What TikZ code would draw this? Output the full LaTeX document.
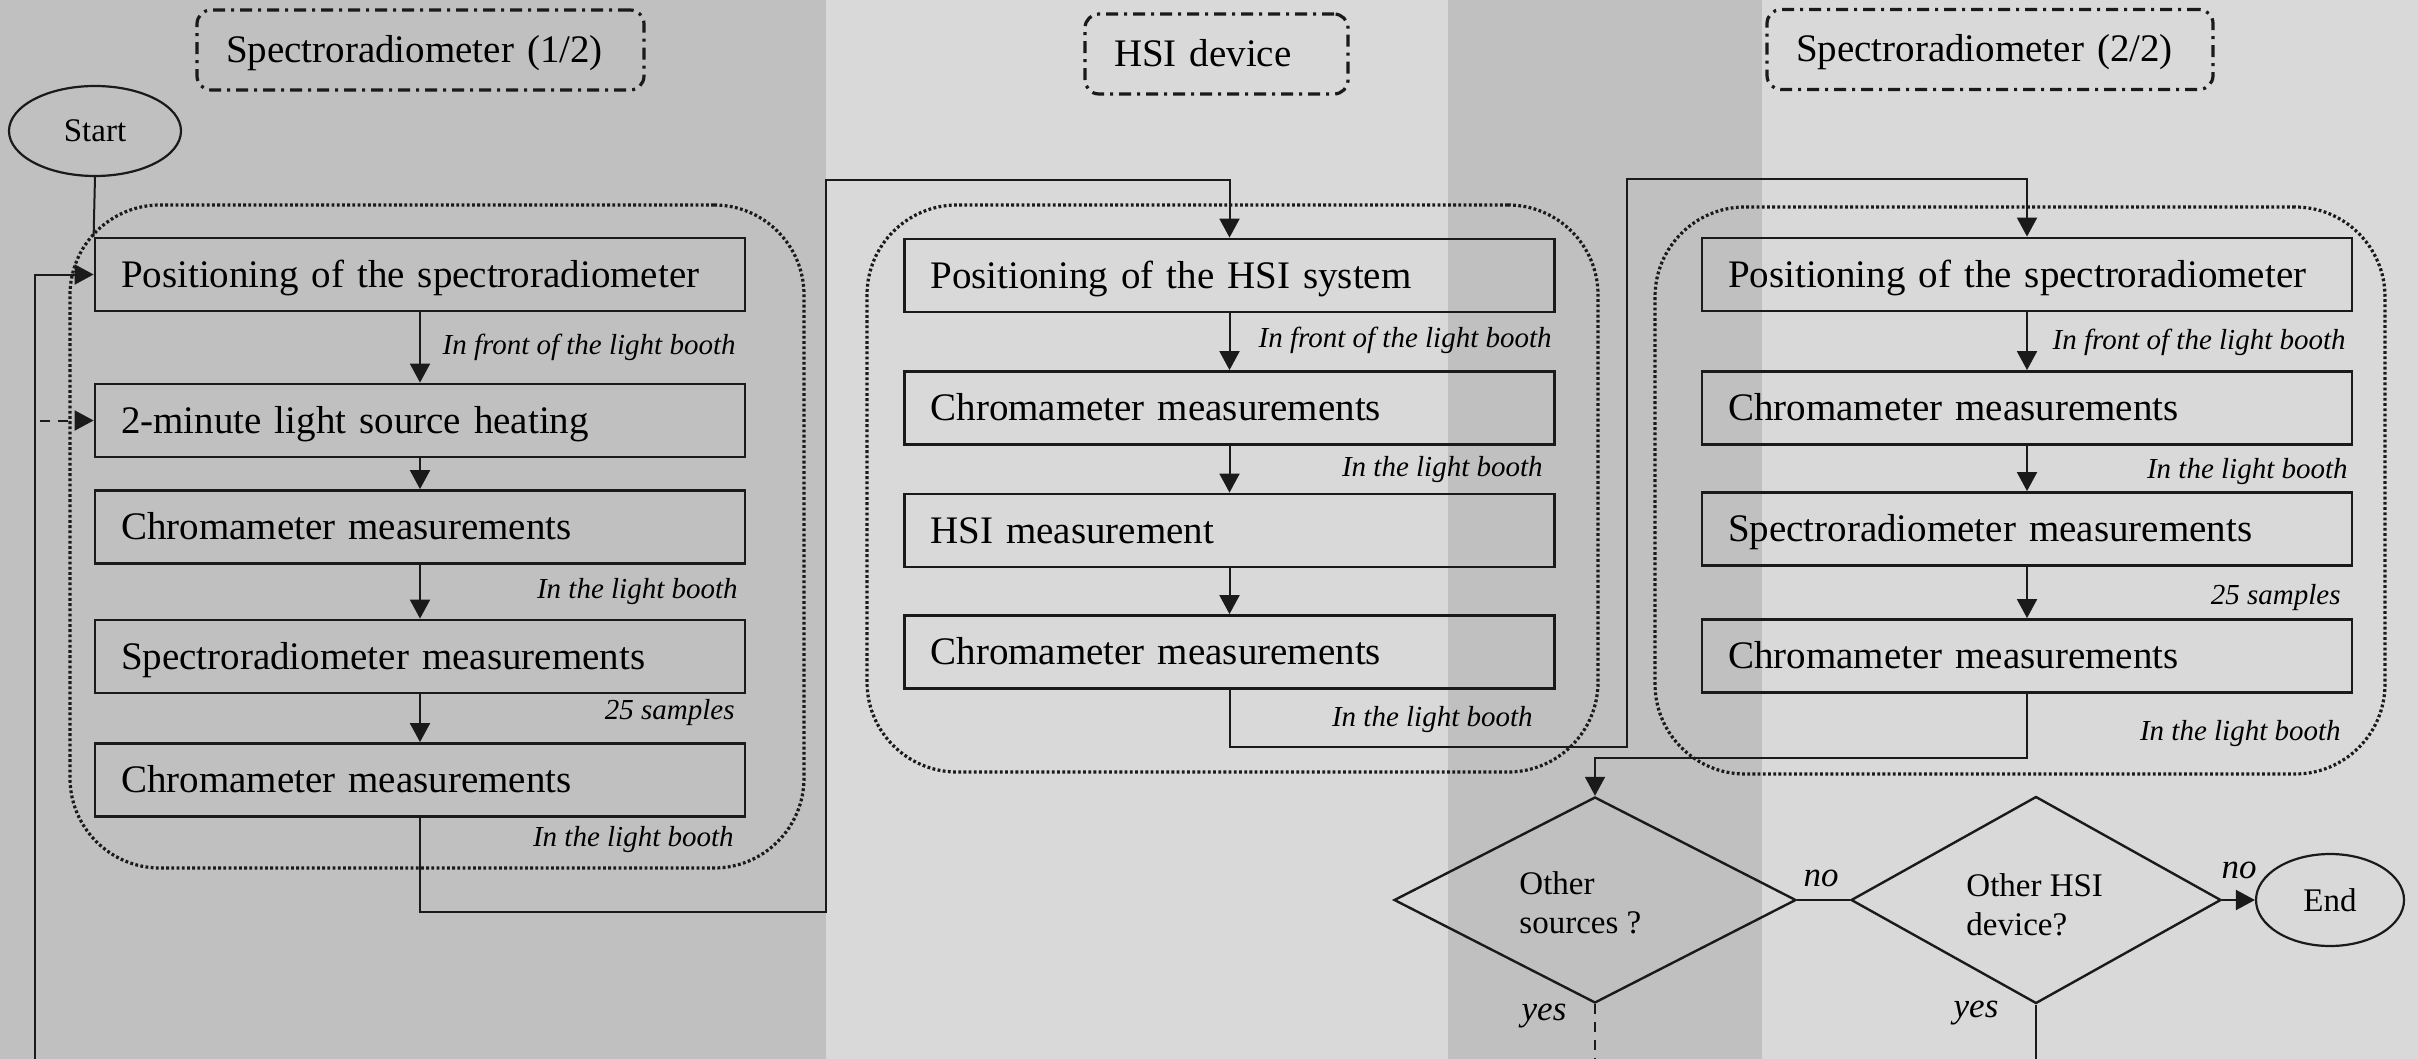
\documentclass[tikz,border=0pt]{standalone}
\usepackage{fontspec}
\setmainfont{Liberation Serif}
\usetikzlibrary{arrows.meta,shapes.geometric}
\definecolor{bgdark}{HTML}{C0C0C0}
\definecolor{bglight}{HTML}{D9D9D9}
\definecolor{ink}{HTML}{1A1A1A}
\begin{document}
\begin{tikzpicture}[x=0.5pt,y=-0.5pt,
  stepbox/.style={draw=ink,line width=1.4pt,rectangle,minimum height=36.5pt,
    text width=299pt,inner xsep=13pt,inner ysep=0pt,align=left,
    text height=14pt,text depth=1.5pt,
    font=\fontsize{19.5}{23}\selectfont},
  hdrbox/.style={draw=ink,line width=1.6pt,rectangle,rounded corners=7pt,
    dash pattern=on 6pt off 3pt on 1.5pt off 3pt,minimum height=40pt,
    inner xsep=14.5pt,inner ysep=0pt,align=left,
    text height=14pt,text depth=1.5pt,
    font=\fontsize{19.5}{23}\selectfont},
  grpbox/.style={draw=ink,line width=1.6pt,rectangle,rounded corners=45pt,
    dash pattern=on 1.4pt off 1.2pt,inner sep=0pt},
  termnode/.style={draw=ink,line width=1.1pt,ellipse,inner sep=0pt,
    font=\fontsize{16.5}{19}\selectfont},
  decnode/.style={draw=ink,line width=1.2pt,diamond,inner sep=0pt},
  dectext/.style={inner sep=0pt,align=left,anchor=west,
    font=\fontsize{16.5}{19.5}\selectfont},
  lbl/.style={inner sep=0pt,anchor=east,font=\itshape\fontsize{14.5}{17}\selectfont},
  yn/.style={inner sep=0pt,font=\itshape\fontsize{17.5}{20}\selectfont},
  conn/.style={draw=ink,line width=1pt},
  arr/.style={-{Triangle[length=9.5pt,width=10pt]}},
  dashln/.style={dash pattern=on 5pt off 4pt}
]
% background bands
\useasboundingbox (0,0) rectangle (2418,1059);
\fill[bgdark] (0,0) rectangle (826,1059);
\fill[bglight] (826,0) rectangle (1448,1059);
\fill[bgdark] (1448,0) rectangle (1762,1059);
\fill[bglight] (1762,0) rectangle (2418,1059);

% headers
\node[hdrbox,text width=194.5pt,minimum width=223.5pt] (hdrA) at (420.5,50) {Spectroradiometer (1/2)};
\node[hdrbox,text width=102.5pt,minimum width=131.5pt] (hdrB) at (1216.5,54) {HSI device};
\node[hdrbox,text width=194pt,minimum width=223pt] (hdrC) at (1990,49.5) {Spectroradiometer (2/2)};

% group containers
\node[grpbox,minimum width=367pt,minimum height=331.5pt] (grpL) at (437,536.5) {};
\node[grpbox,minimum width=365.5pt,minimum height=283.5pt] (grpH) at (1232.5,488.5) {};
\node[grpbox,minimum width=365pt,minimum height=283.5pt] (grpR) at (2020,490.5) {};

% start
\node[termnode,minimum width=86pt,minimum height=45pt] (start) at (95,131) {Start};

% left column
\node[stepbox] (L1) at (420,274.5) {Positioning of the spectroradiometer};
\node[stepbox] (L2) at (420,420.5) {2-minute light source heating};
\node[stepbox] (L3) at (420,527) {Chromameter measurements};
\node[stepbox] (L4) at (420,656.5) {Spectroradiometer measurements};
\node[stepbox] (L5) at (420,780) {Chromameter measurements};
\node[lbl] (lA) at (736,347) {In front of the light booth};
\node[lbl] (lB) at (738,592) {In the light booth};
\node[lbl] (lC) at (735,713) {25 samples};
\node[lbl] (lD) at (734,840) {In the light booth};

% HSI column
\node[stepbox] (H1) at (1229.5,275.5) {Positioning of the HSI system};
\node[stepbox] (H2) at (1229.5,408) {Chromameter measurements};
\node[stepbox] (H3) at (1229.5,530.5) {HSI measurement};
\node[stepbox] (H4) at (1229.5,652) {Chromameter measurements};
\node[lbl] (hA) at (1552,340) {In front of the light booth};
\node[lbl] (hB) at (1543,470) {In the light booth};
\node[lbl] (hC) at (1533,720) {In the light booth};

% right column
\node[stepbox] (R1) at (2027,274.5) {Positioning of the spectroradiometer};
\node[stepbox] (R2) at (2027,408) {Chromameter measurements};
\node[stepbox] (R3) at (2027,529) {Spectroradiometer measurements};
\node[stepbox] (R4) at (2027,656) {Chromameter measurements};
\node[lbl] (rA) at (2346,342) {In front of the light booth};
\node[lbl] (rB) at (2348,472) {In the light booth};
\node[lbl] (rC) at (2341,598) {25 samples};
\node[lbl] (rD) at (2341,734) {In the light booth};

% decisions
\node[decnode,minimum width=201pt,minimum height=103pt] (D1) at (1595,900) {};
\node[dectext] (D1t) at (1519,903) {Other\\sources ?};
\node[decnode,minimum width=185pt,minimum height=103.5pt] (D2) at (2036,900) {};
\node[dectext] (D2t) at (1966,905) {Other HSI\\device?};
\node[termnode,minimum width=74pt,minimum height=46pt] (endn) at (2330,900) {End};
\node[yn] (no1) at (1821,878) {no};
\node[yn] (no2) at (2239,870) {no};
\node[yn] (yes1) at (1544,1016) {yes};
\node[yn] (yes2) at (1976,1013) {yes};

% coordinates
\coordinate (j1) at (826,912);
\coordinate (j2) at (826,180);
\coordinate (j3) at (1627,747);
\coordinate (j4) at (1627,179);
\coordinate (j5) at (1595,758);
\coordinate (lb) at (35,1059);
\coordinate (ld) at (40,420.5);
\coordinate (d1b) at (1595,1059);
\coordinate (d2b) at (2036,1059);

% connectors
\draw[conn] (start.south) -- (L1.north west);
\draw[conn,arr] (L1) -- (L2);
\draw[conn,arr] (L2) -- (L3);
\draw[conn,arr] (L3) -- (L4);
\draw[conn,arr] (L4) -- (L5);
\draw[conn,arr] (L5.south) |- (j1) -- (j2) -| (H1.north);
\draw[conn,arr] (H1) -- (H2);
\draw[conn,arr] (H2) -- (H3);
\draw[conn,arr] (H3) -- (H4);
\draw[conn,arr] (H4.south) |- (j3) -- (j4) -| (R1.north);
\draw[conn,arr] (R1) -- (R2);
\draw[conn,arr] (R2) -- (R3);
\draw[conn,arr] (R3) -- (R4);
\draw[conn,arr] (R4.south) |- (j5) -- (D1.north);
\draw[conn] (D1.east) -- (D2.west);
\draw[conn,arr] (D2.east) -- (endn.west);
\draw[conn,dashln] (D1.south) -- (d1b);
\draw[conn] (D2.south) -- (d2b);
\draw[conn,arr] (lb) |- (L1.west);
\draw[conn,dashln,arr] (ld) -- (L2.west);
\end{tikzpicture}
\end{document}
